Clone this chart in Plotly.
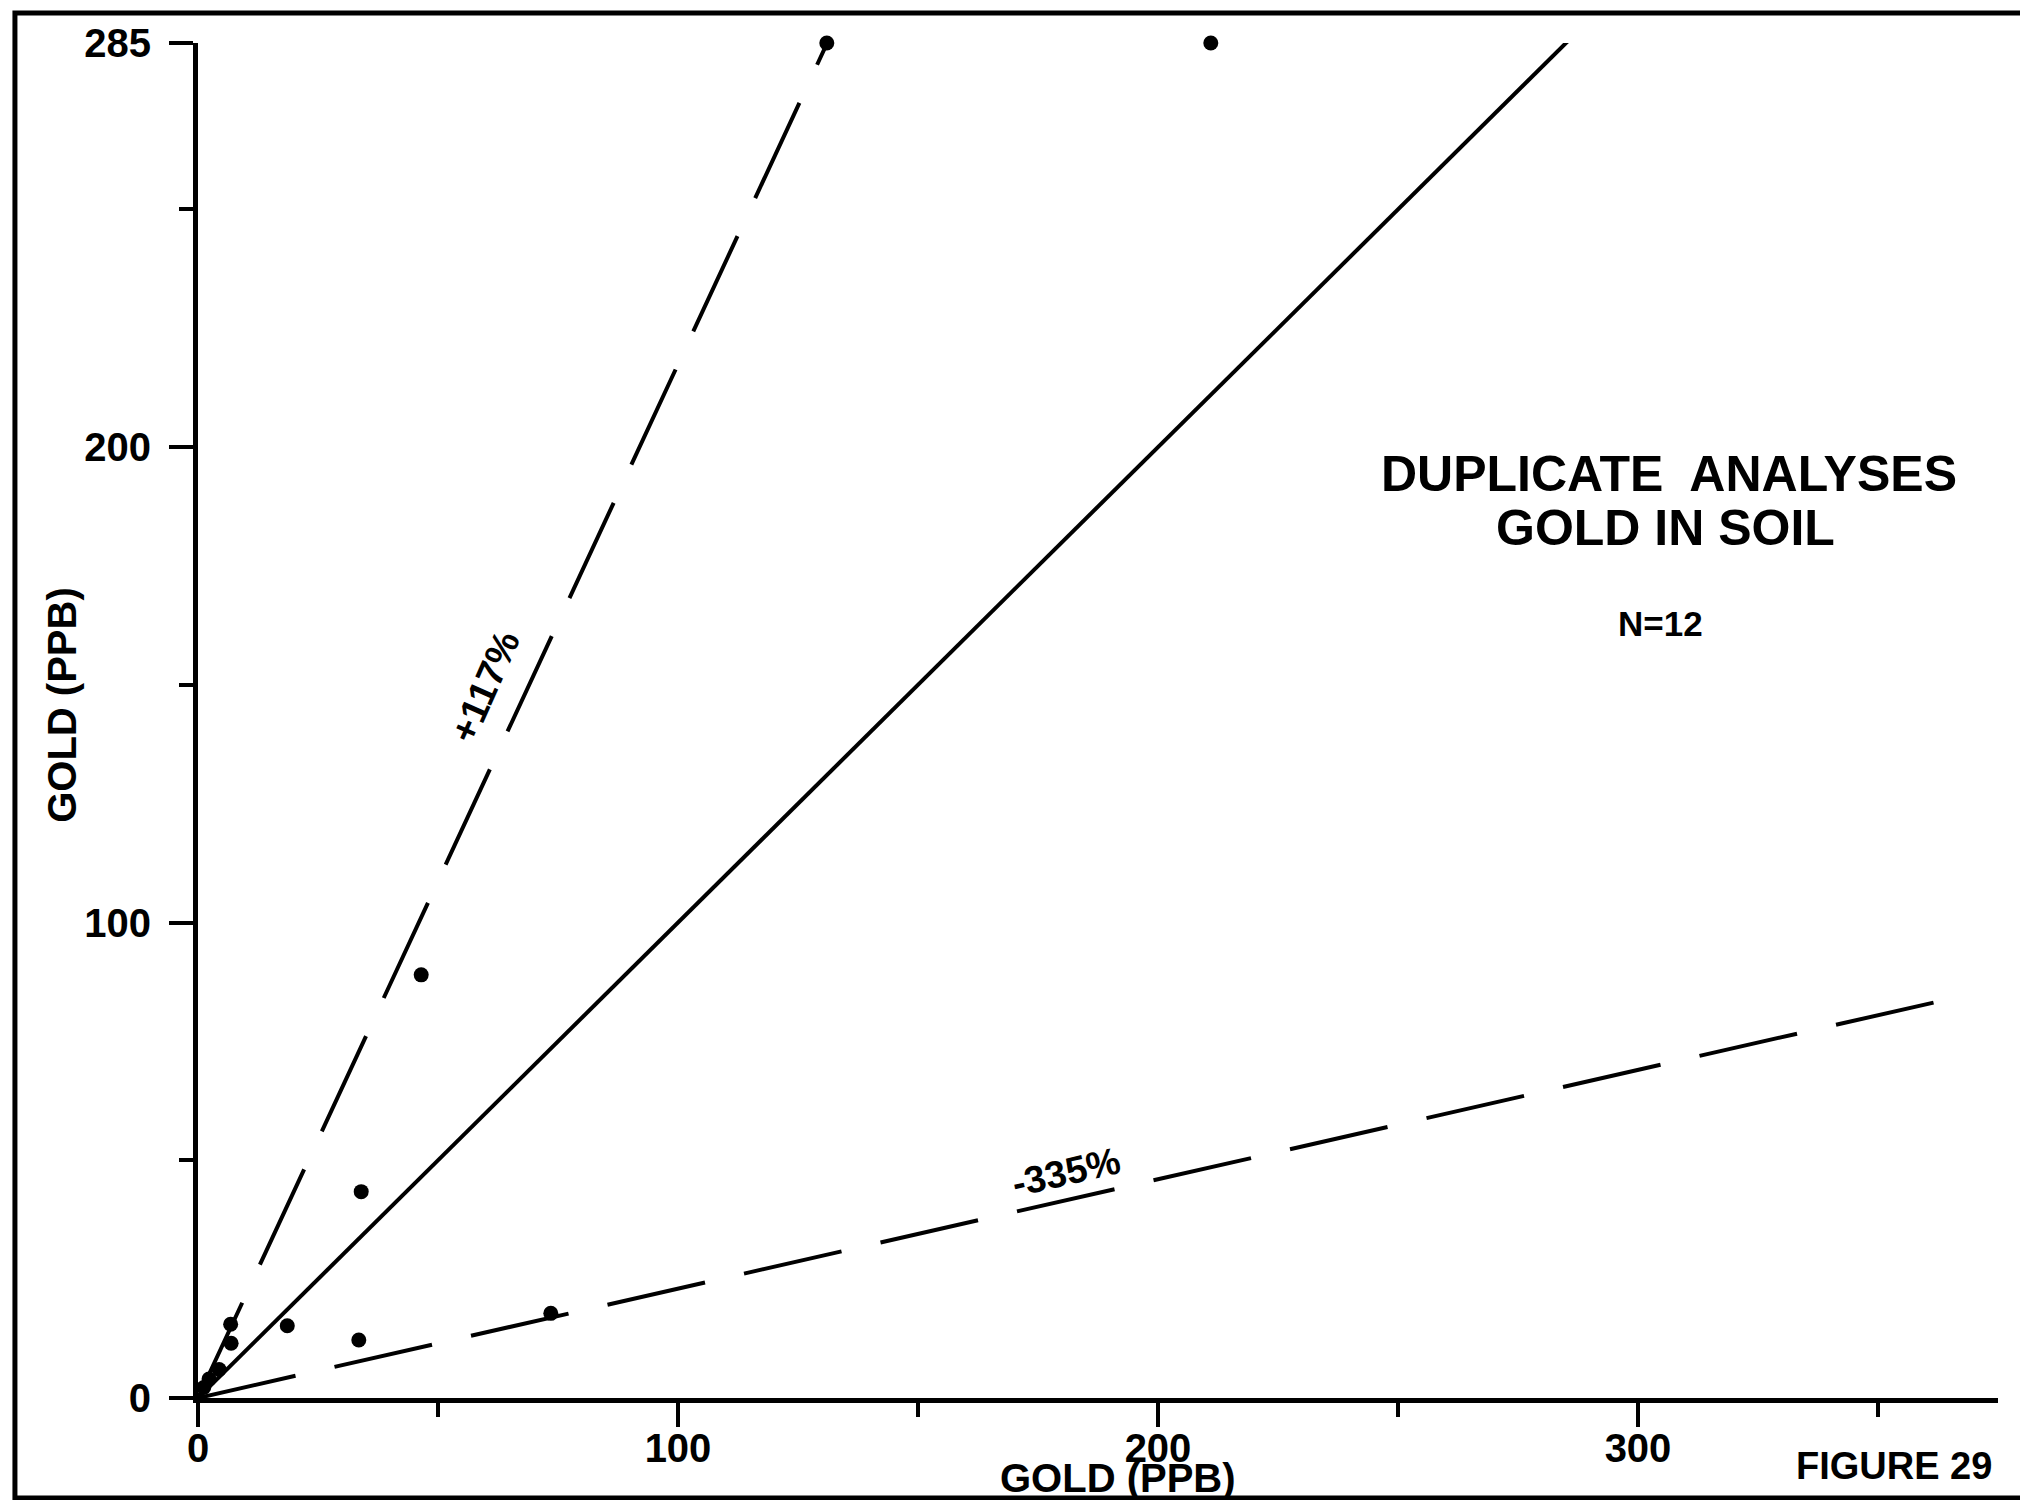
import plotly.graph_objects as go

# ---- data ----
dup_x = [131, 211, 46.5, 34, 33.5, 73.5, 18.6, 6.8, 6.9, 4.4, 2.3, 1.2]
dup_y = [285, 285, 89, 43.4, 12.2, 17.8, 15.2, 15.5, 11.5, 6.0, 4.0, 2.2]

equal_x = [0, 286]
equal_y = [0, 286]
upper_x = [0, 132]
upper_y = [0, 287]
lower_x = [0, 363]
lower_y = [0, 83.5]

x_major = [0, 100, 200, 300]
x_minor = [50, 150, 250, 350]
y_major = [0, 100, 200, 285]
y_minor = [50, 150, 250]

FONT = "Liberation Sans, Arial, Helvetica, sans-serif"
INK = "#000000"

fig = go.Figure()
fig.add_trace(go.Scatter(x=equal_x, y=equal_y, mode="lines",
                         line=dict(color=INK, width=4), hoverinfo="skip"))
fig.add_trace(go.Scatter(x=upper_x, y=upper_y, mode="lines",
                         line=dict(color=INK, width=4, dash="105px,42px"), hoverinfo="skip"))
fig.add_trace(go.Scatter(x=lower_x, y=lower_y, mode="lines",
                         line=dict(color=INK, width=4, dash="100px,40px"), hoverinfo="skip"))
fig.add_trace(go.Scatter(x=dup_x, y=dup_y, mode="markers", cliponaxis=False,
                         marker=dict(color=INK, size=15)))

axis_common = dict(
    showgrid=False, zeroline=False, showline=True, linecolor=INK, linewidth=5,
    ticks="outside", ticklen=24, tickwidth=3.5, tickcolor=INK,
    tickfont=dict(family=FONT, size=40, color=INK, weight="bold"),
    fixedrange=True,
)

fig.update_xaxes(range=[0, 375], tickmode="array", tickvals=x_major,
                 ticktext=[str(v) for v in x_major],
                 minor=dict(tickmode="array", tickvals=x_minor, ticks="outside",
                            ticklen=14, tickwidth=3.5, tickcolor=INK, showgrid=False),
                 ticklabelstandoff=-13,
                 **axis_common)
fig.update_yaxes(range=[0, 285], tickmode="array", tickvals=y_major,
                 ticktext=[str(v) for v in y_major],
                 minor=dict(tickmode="array", tickvals=y_minor, ticks="outside",
                            ticklen=14, tickwidth=3.5, tickcolor=INK, showgrid=False),
                 ticklabelstandoff=10,
                 **axis_common)

def txt(text, x, y, size, ref="data", angle=0, xanchor="center"):
    fig.add_annotation(
        text=text, x=x, y=y, xref="paper" if ref == "paper" else "x",
        yref="paper" if ref == "paper" else "y", showarrow=False,
        textangle=angle, xanchor=xanchor, yanchor="middle",
        font=dict(family=FONT, size=size, color=INK, weight="bold"))

txt("DUPLICATE  ANALYSES", 306.5, 194.3, 50)
txt("GOLD IN SOIL", 305.7, 182.9, 50)
txt("N=12", 304.6, 163.0, 35)
txt("+117%", 59.8, 149.5, 38, angle=-66)
txt("-335%", 180.8, 47.6, 38, angle=-13)
txt("GOLD (PPB)", 0.511, -0.059, 40, ref="paper")
txt("GOLD (PPB)", -0.0756, 0.5115, 40, ref="paper", angle=-90)
txt("FIGURE 29", 0.942, -0.0502, 38, ref="paper")

# page frame
fig.add_shape(type="rect", xref="paper", yref="paper",
              x0=-0.1017, x1=1.0183, y0=-0.0738, y1=1.0221,
              line=dict(color=INK, width=5), fillcolor="rgba(0,0,0,0)", layer="below")

fig.update_layout(
    width=2028, height=1500,
    margin=dict(l=190, r=38, t=35, b=110, pad=0),
    paper_bgcolor="white", plot_bgcolor="white",
    showlegend=False,
)

fig.write_html("out.html")
